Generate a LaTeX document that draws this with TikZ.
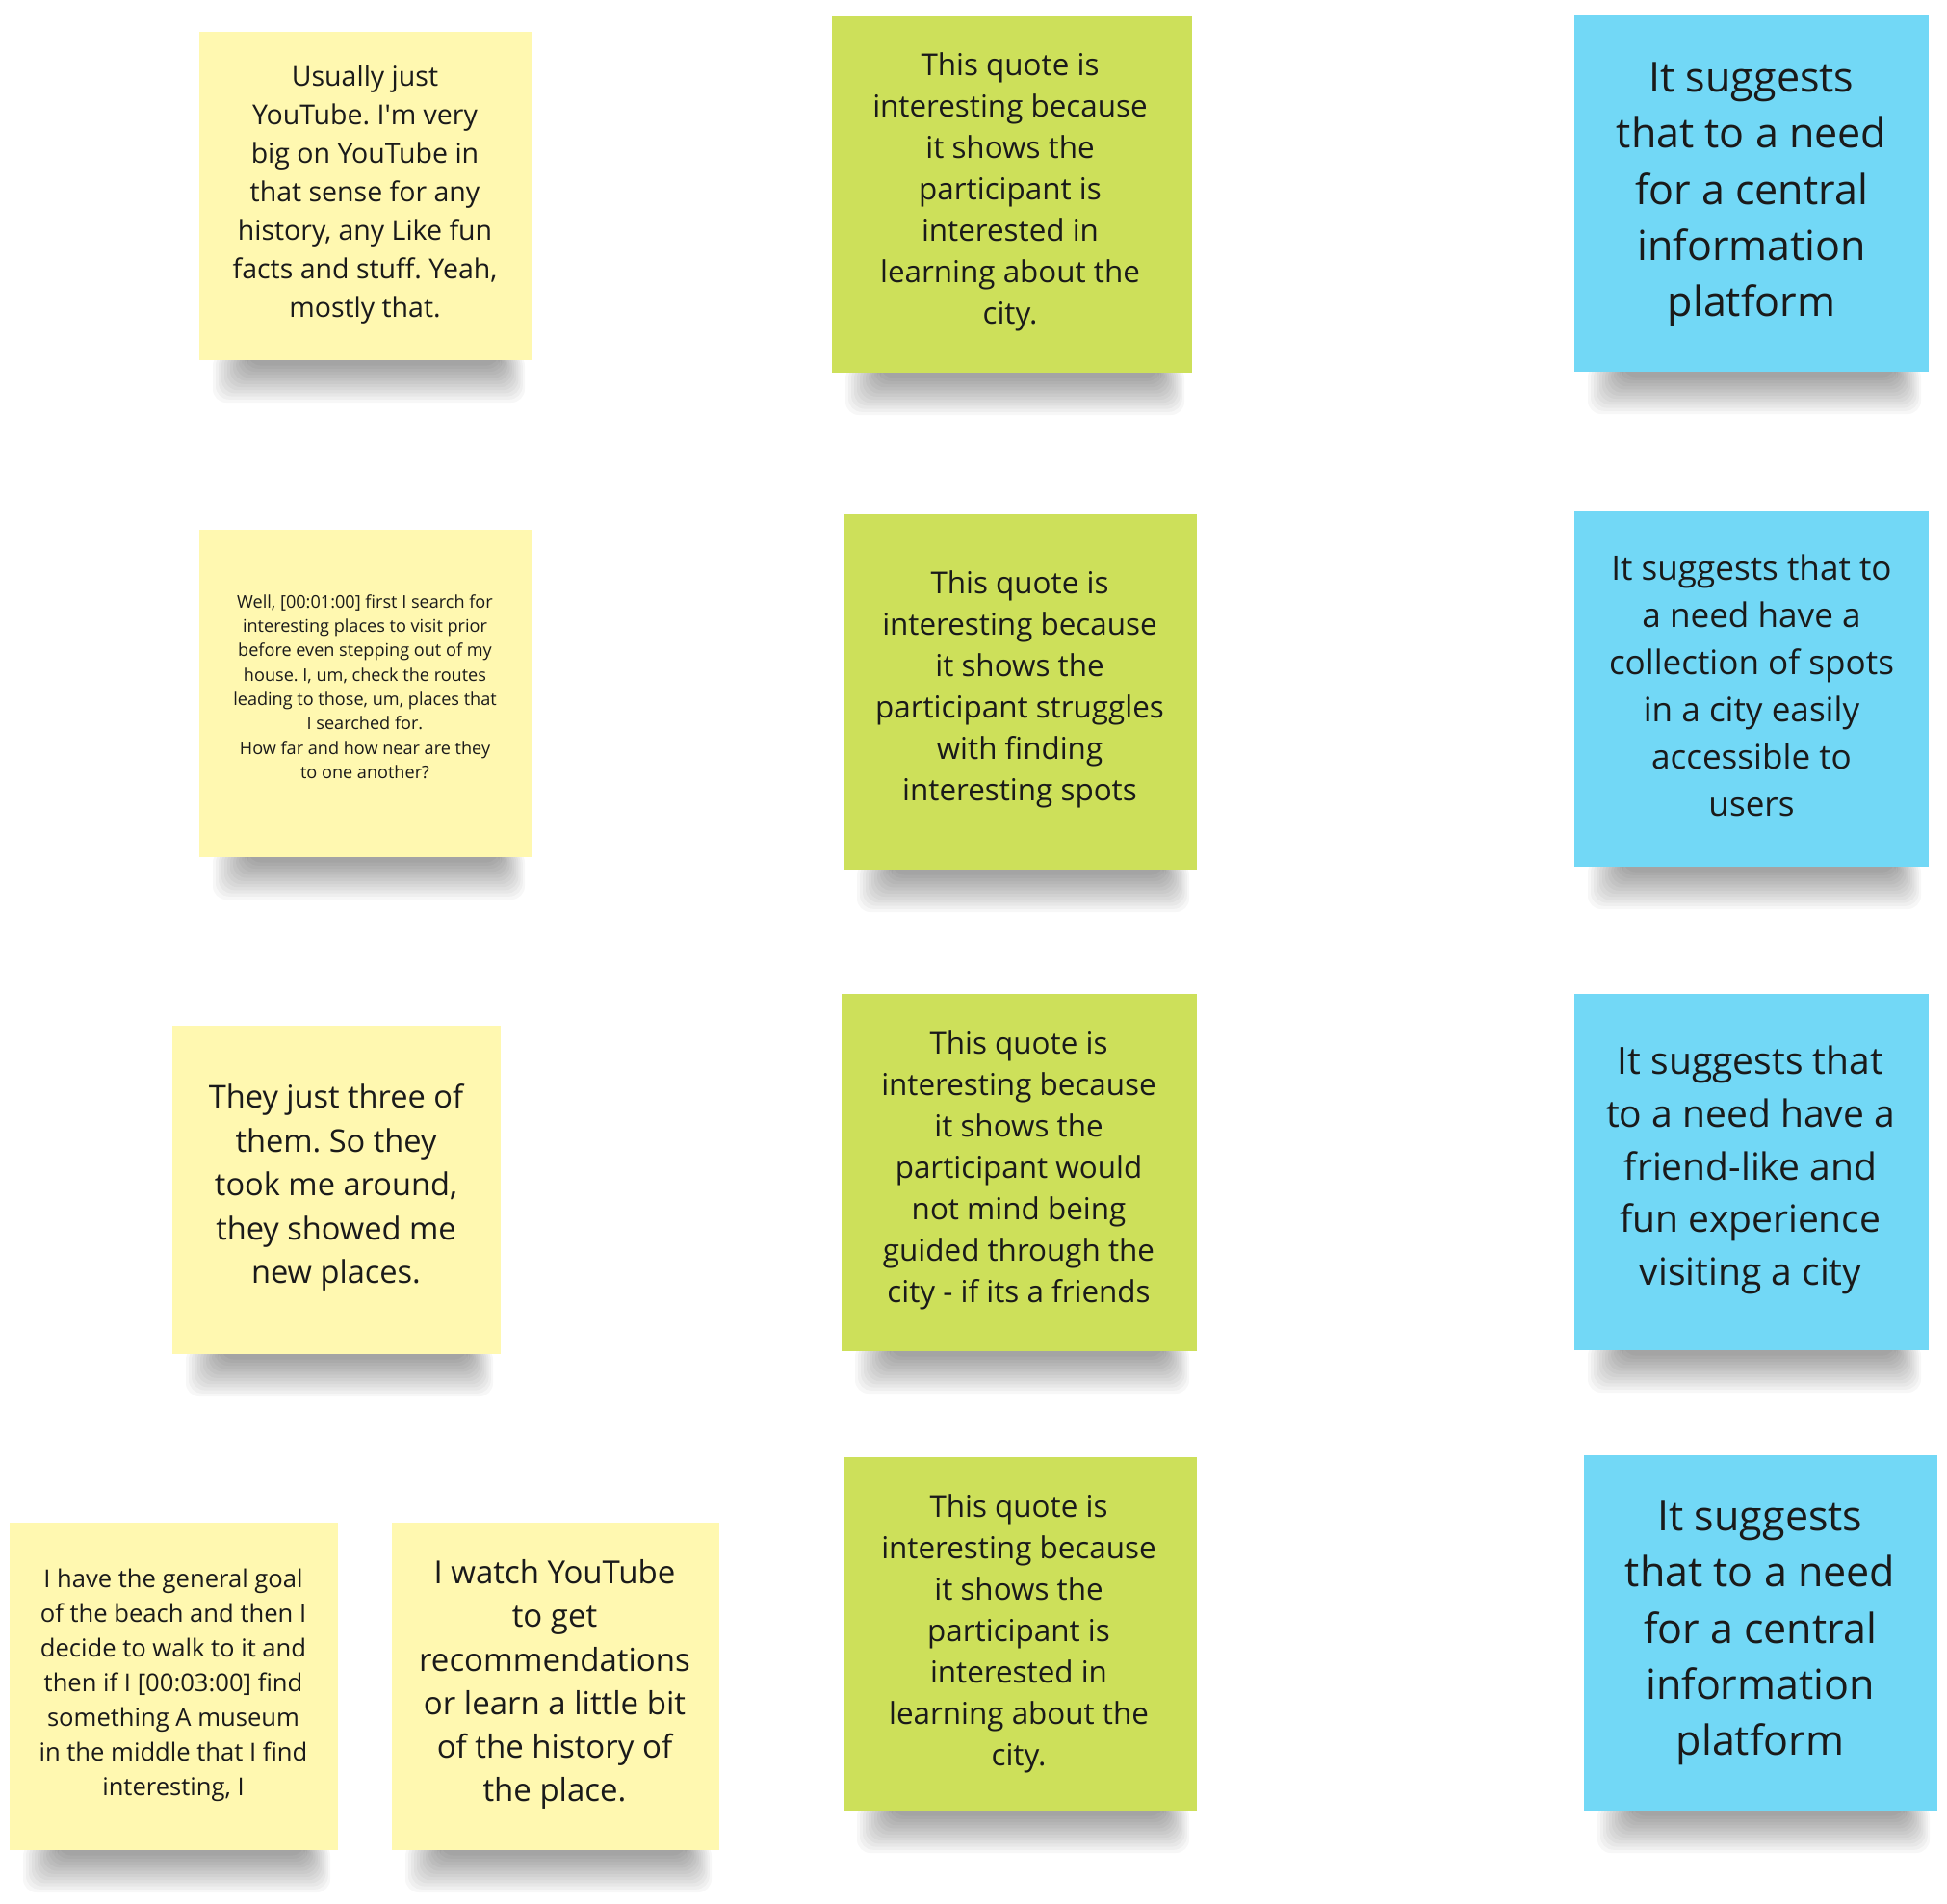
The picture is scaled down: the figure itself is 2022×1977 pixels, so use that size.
\documentclass[tikz,border=0pt]{standalone}
\usepackage{fontspec}
\setmainfont{Open Sans}
\frenchspacing
\definecolor{stickyyellow}{HTML}{FFF8B0}
\definecolor{stickygreen}{HTML}{CDE05A}
\definecolor{stickyblue}{HTML}{72D8F6}
\definecolor{inktext}{HTML}{1A1A1A}
\tikzset{
  notetext/.style={align=center, text=inktext, inner sep=0pt},
}
\newcommand\undershadow[3]{%
  \foreach \k in {0,...,12}{%
    \fill[black,opacity=0.03,rounded corners=14pt] ({#1+14+3*\k},{#3-8}) rectangle ({#2-8-2.2*\k},{#3+44-3.2*\k});
  }%
}
\newcommand\sticky[6]{% name, x1, y1, x2, y2, colour
  \undershadow{#2}{#4}{#5}
  \fill[#6] (#2,#3) rectangle (#4,#5);
  \coordinate (#1) at ({(#2+#4)/2},{(#3+#5)/2});
}
\begin{document}
\begin{tikzpicture}[x=1pt,y=-1pt]
\useasboundingbox (0,0) rectangle (2022,1977);
\fill[white] (0,0) rectangle (2022,1977);

% row 1
\sticky{n1}{207}{33}{553}{374}{stickyyellow}
\node[notetext, font=\fontsize{28.5}{40}\selectfont] (t1) at (379,202) {Usually just\\YouTube. I\textquotesingle m very\\big on YouTube in\\that sense for any\\history, any Like fun\\facts and stuff. Yeah,\\mostly that.};
\sticky{n2}{864}{17}{1238}{387}{stickygreen}
\node[notetext, font=\fontsize{31.4}{43}\selectfont] (t2) at (1049,199) {This quote is\\interesting because\\it shows the\\participant is\\interested in\\learning about the\\city.};
\sticky{n3}{1635}{16}{2003}{386}{stickyblue}
\node[notetext, font=\fontsize{43}{58.4}\selectfont] (t3) at (1819,202) {It suggests\\that to a need\\for a central\\information\\platform};

% row 2
\sticky{n4}{207}{550}{553}{890}{stickyyellow}
\node[notetext, font=\fontsize{18.1}{25.3}\selectfont] (t4) at (379,713) {Well, [00:01:00] first I search for\\interesting places to visit prior\\before even stepping out of my\\house. I, um, check the routes\\leading to those, um, places that\\I searched for.\\How far and how near are they\\to one another?};
\sticky{n5}{876}{534}{1243}{903}{stickygreen}
\node[notetext, font=\fontsize{31.4}{43}\selectfont] (t5) at (1059,716) {This quote is\\interesting because\\it shows the\\participant struggles\\with finding\\interesting spots};
\sticky{n6}{1635}{531}{2003}{900}{stickyblue}
\node[notetext, font=\fontsize{35.1}{49}\selectfont] (t6) at (1819,712) {It suggests that to\\a need have a\\collection of spots\\in a city easily\\accessible to\\users};

% row 3
\sticky{n7}{179}{1065}{520}{1406}{stickyyellow}
\node[notetext, font=\fontsize{32.6}{45.5}\selectfont] (t7) at (349,1233) {They just three of\\them. So they\\took me around,\\they showed me\\new places.};
\sticky{n8}{874}{1032}{1243}{1403}{stickygreen}
\node[notetext, font=\fontsize{31.4}{43}\selectfont] (t8) at (1058,1215) {This quote is\\interesting because\\it shows the\\participant would\\not mind being\\guided through the\\city - if its a friends};
\sticky{n9}{1635}{1032}{2003}{1402}{stickyblue}
\node[notetext, font=\fontsize{39}{54.8}\selectfont] (t9) at (1818,1215) {It suggests that\\to a need have a\\friend-like and\\fun experience\\visiting a city};

% row 4
\sticky{n10}{10}{1581}{351}{1921}{stickyyellow}
\node[notetext, font=\fontsize{25.6}{36.1}\selectfont] (t10) at (180,1750) {I have the general goal\\of the beach and then I\\decide to walk to it and\\then if I [00:03:00] find\\something A museum\\in the middle that I find\\interesting, I};
\sticky{n11}{407}{1581}{747}{1921}{stickyyellow}
\node[notetext, font=\fontsize{33}{45.1}\selectfont] (t11) at (576,1749) {I watch YouTube\\to get\\recommendations\\or learn a little bit\\of the history of\\the place.};
\sticky{n12}{876}{1513}{1243}{1880}{stickygreen}
\node[notetext, font=\fontsize{31.4}{43}\selectfont] (t12) at (1058,1696) {This quote is\\interesting because\\it shows the\\participant is\\interested in\\learning about the\\city.};
\sticky{n13}{1645}{1511}{2012}{1880}{stickyblue}
\node[notetext, font=\fontsize{43}{58.4}\selectfont] (t13) at (1828,1696) {It suggests\\that to a need\\for a central\\information\\platform};
\end{tikzpicture}
\end{document}
